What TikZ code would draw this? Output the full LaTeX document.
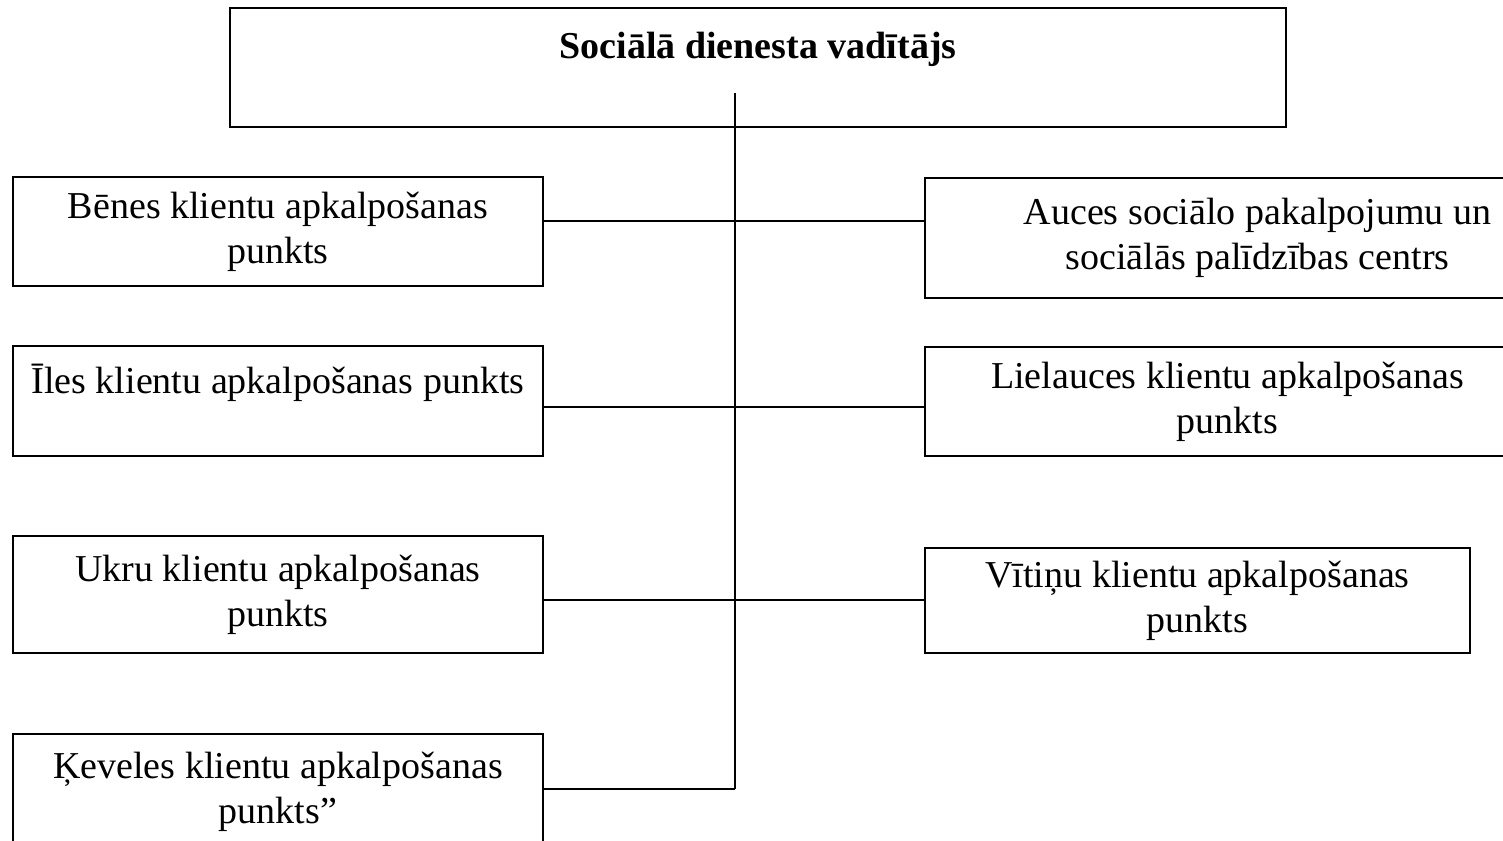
\documentclass[tikz,border=0pt]{standalone}
\usepackage{fontspec}
\setmainfont{Liberation Serif}
\tikzset{
  orgbox/.style = {rectangle, draw=black, line width=1.1pt, align=center,
    inner sep=0pt, font=\fontsize{19}{22.5}\selectfont},% struktūrvienība
  vad_box/.style = {orgbox, font=\fontsize{19}{22.5}\selectfont\bfseries},% vadītājs
  saite/.style = {line width=1pt}% savienojuma līnija
}
\begin{document}
\begin{tikzpicture}[x=0.5pt,y=-0.5pt]
\clip (0,0) rectangle (1503,840);
\node [vad_box, minimum width=528pt, minimum height=59.5pt] (vad) at (758,67.5)
  {Sociālā dienesta vadītājs\\ \mbox{}};
% kreisā puse
\node [orgbox, minimum width=265pt, minimum height=54.5pt] (bene) at (278,231.5)
  {Bēnes klientu apkalpošanas\\ punkts};
\node [orgbox, minimum width=265pt, minimum height=55pt] (ile) at (278,401)
  {Īles klientu apkalpošanas punkts\\ \mbox{}};
\node [orgbox, minimum width=265pt, minimum height=58.5pt] (ukru) at (278,594.5)
  {Ukru klientu apkalpošanas\\ punkts};
\node [orgbox, minimum width=265pt, minimum height=58pt] (keve) at (278,792)
  {Ķeveles klientu apkalpošanas\\ punkts”};
% labā puse
\node [orgbox, minimum width=332.5pt, minimum height=60pt] (auce) at (1257.5,238)
  {Auces sociālo pakalpojumu un\\ sociālās palīdzības centrs};
\node [orgbox, minimum width=302.5pt, minimum height=54.5pt] (liel) at (1227.5,401.5)
  {Lielauces klientu apkalpošanas\\ punkts};
\node [orgbox, minimum width=272.5pt, minimum height=52.5pt] (viti) at (1197.5,600.5)
  {Vītiņu klientu apkalpošanas\\ punkts};
% savienojumi
\coordinate (sak) at (735,93);
\coordinate (r1) at (735,221);
\coordinate (r2) at (735,407);
\coordinate (r3) at (735,600);
\coordinate (r4) at (735,789);
\draw [saite] (sak) -- (r4);
\draw [saite] (bene.east |- r1) -- (auce.west |- r1);
\draw [saite] (ile.east |- r2) -- (liel.west |- r2);
\draw [saite] (ukru.east |- r3) -- (viti.west |- r3);
\draw [saite] (keve.east |- r4) -- (r4);
\end{tikzpicture}
\end{document}
